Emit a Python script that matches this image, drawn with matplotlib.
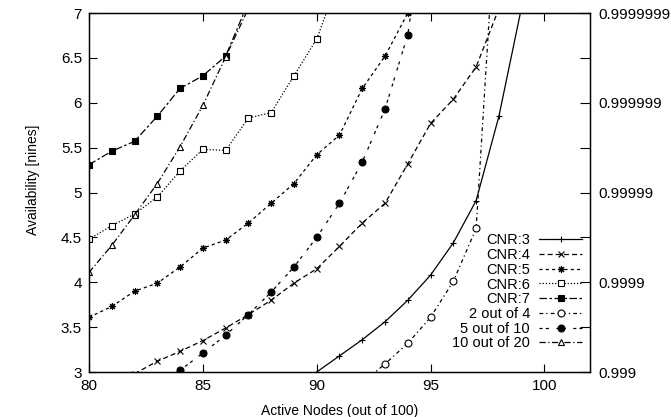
import numpy as np
import matplotlib.pyplot as plt

plt.rcParams['font.family'] = ['Liberation Sans', 'DejaVu Sans']
plt.rcParams['font.size'] = 10

# Availability in nines vs number of active nodes
cnr3_x = [89, 90, 91, 92, 93, 94, 95, 96, 97, 98, 99]
cnr3_y = [2.85, 3.0, 3.18, 3.36, 3.56, 3.80, 4.08, 4.44, 4.91, 5.85, 7.07]

cnr4_x = [82, 83, 84, 85, 86, 87, 88, 89, 90, 91, 92, 93, 94, 95, 96, 97, 98]
cnr4_y = [2.98, 3.12, 3.23, 3.35, 3.49, 3.64, 3.80, 3.99, 4.15, 4.40, 4.66,
          4.88, 5.32, 5.77, 6.04, 6.40, 7.05]

cnr5_x = [80, 81, 82, 83, 84, 85, 86, 87, 88, 89, 90, 91, 92, 93, 94]
cnr5_y = [3.61, 3.73, 3.90, 3.99, 4.17, 4.38, 4.47, 4.66, 4.88, 5.10, 5.42,
          5.64, 6.16, 6.52, 7.0]

cnr6_x = [80, 81, 82, 83, 84, 85, 86, 87, 88, 89, 90, 91]
cnr6_y = [4.48, 4.63, 4.76, 4.95, 5.24, 5.48, 5.47, 5.83, 5.89, 6.30, 6.71, 7.4]

cnr7_x = [80, 81, 82, 83, 84, 85, 86, 87]
cnr7_y = [5.31, 5.46, 5.57, 5.85, 6.16, 6.30, 6.52, 7.12]

two4_x = [92, 93, 94, 95, 96, 97, 98]
two4_y = [2.88, 3.09, 3.32, 3.61, 4.01, 4.60, 8.7]

five10_x = [83, 84, 85, 86, 87, 88, 89, 90, 91, 92, 93, 94, 95]
five10_y = [2.85, 3.02, 3.21, 3.41, 3.64, 3.89, 4.17, 4.50, 4.88, 5.34, 5.93,
            6.76, 8.5]

ten20_x = [80, 81, 82, 83, 84, 85, 86, 87]
ten20_y = [4.11, 4.41, 4.75, 5.10, 5.51, 5.97, 6.51, 7.05]

right_labels = ['0.999', '0.9999', '0.99999', '0.999999', '0.9999999']

fig = plt.figure(figsize=(6.71, 4.17), dpi=100)
ax = fig.add_axes([0.1326, 0.1079, 0.7467, 0.8609])

lw = 0.9
ms = 5
series = [
    (cnr3_x, cnr3_y, 'CNR:3', '-', dict(marker='+', mfc='none')),
    (cnr4_x, cnr4_y, 'CNR:4', (0, (4, 2.5)), dict(marker='x', mfc='none')),
    (cnr5_x, cnr5_y, 'CNR:5', (0, (2.5, 2.5)), dict(marker=(8, 2, 0), mfc='none')),
    (cnr6_x, cnr6_y, 'CNR:6', (0, (1, 1.5)), dict(marker='s', mfc='white')),
    (cnr7_x, cnr7_y, 'CNR:7', (0, (6, 2, 2, 2)), dict(marker='s', mfc='black')),
    (two4_x, two4_y, '2 out of 4', (0, (3, 2.5, 1, 2.5)), dict(marker='o', mfc='white')),
    (five10_x, five10_y, '5 out of 10', (0, (2.5, 2.5, 2.5, 6)), dict(marker='o', mfc='black')),
    (ten20_x, ten20_y, '10 out of 20', (0, (5, 2, 1, 2)), dict(marker='^', mfc='white')),
]
for x, y, lab, ls, mk in series:
    ax.plot(x, y, color='black', lw=lw, ls=ls, ms=ms, mec='black', mew=0.8,
            label=lab, **mk)

ax.set_xlim(80, 102)
ax.set_ylim(3, 7)
ax.set_xticks([80, 85, 90, 95, 100])
ax.set_yticks(np.arange(3, 7.01, 0.5))
ax.set_yticklabels(['3', '3.5', '4', '4.5', '5', '5.5', '6', '6.5', '7'])
ax.tick_params(direction='in', length=6, width=0.8, top=True, labelsize=11, pad=5)
ax.set_xlabel('Active Nodes (out of 100)', fontsize=10, labelpad=8)
ax.set_ylabel('Availability [nines]', fontsize=10)
ax.yaxis.set_label_coords(-0.098, 0.535)
for s in ax.spines.values():
    s.set_linewidth(1.0)

ax2 = ax.twinx()
ax2.set_ylim(3, 7)
ax2.set_yticks(np.arange(3, 7.01, 0.5))
ax2.set_yticklabels([right_labels[int(v - 3)] if v == int(v) else ''
                     for v in np.arange(3, 7.01, 0.5)])
ax2.tick_params(direction='in', length=7, width=0.8, labelsize=11, pad=6)

leg = ax.legend(loc='lower right', bbox_to_anchor=(0.985, 0.06), frameon=False,
                markerfirst=False, handlelength=3.0, handletextpad=0.6,
                labelspacing=0.05, fontsize=10.5, borderaxespad=0, borderpad=0)

fig.savefig('out.png', dpi=100)
